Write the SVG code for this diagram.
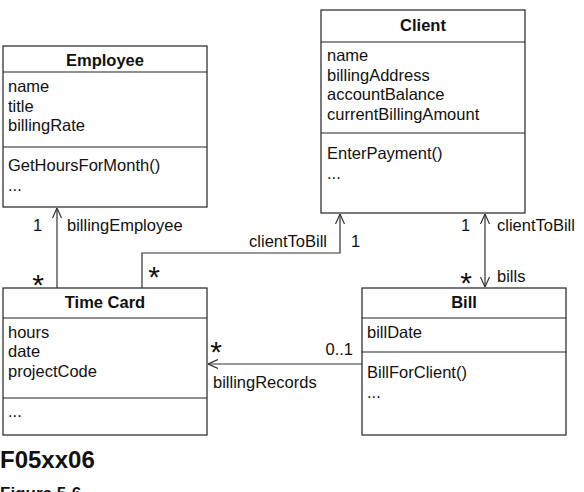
<svg xmlns="http://www.w3.org/2000/svg" width="584" height="492" viewBox="0 0 584 492">
<defs>
<style>
.box{fill:#fff;stroke:#222;stroke-width:1.2}
.div{stroke:#222;stroke-width:1.2}
.t{font-family:"Liberation Sans",Arial,sans-serif;font-size:16.5px;fill:#111}
.h{font-family:"Liberation Sans",Arial,sans-serif;font-size:16.5px;font-weight:bold;fill:#111;text-anchor:middle}
.star{font-family:"Liberation Sans",Arial,sans-serif;font-size:30px;fill:#111;text-anchor:middle}
.ln{fill:none;stroke:#333;stroke-width:1.2}
</style>
<marker id="open" viewBox="0 0 10 10" refX="10" refY="5" markerWidth="10" markerHeight="10" markerUnits="userSpaceOnUse" orient="auto-start-reverse">
<path d="M0,0.5 L10,5 L0,9.5" fill="none" stroke="#333" stroke-width="1.2"/>
</marker>
</defs>
<rect width="584" height="492" fill="#fff"/>

<g id="employee">
<rect class="box" x="3" y="46" width="204" height="161"/>
<line class="div" x1="3" y1="72" x2="207" y2="72"/>
<line class="div" x1="3" y1="147" x2="207" y2="147"/>
<text class="h" x="105" y="66">Employee</text>
<text class="t" x="8" y="92">name</text>
<text class="t" x="8" y="112">title</text>
<text class="t" x="8" y="131">billingRate</text>
<text class="t" x="8" y="171">GetHoursForMonth()</text>
<text class="t" x="8" y="191">...</text>
</g>

<g id="client">
<rect class="box" x="321" y="10" width="204" height="203"/>
<line class="div" x1="321" y1="42" x2="525" y2="42"/>
<line class="div" x1="321" y1="133" x2="525" y2="133"/>
<text class="h" x="423" y="31">Client</text>
<text class="t" x="327" y="61">name</text>
<text class="t" x="327" y="81">billingAddress</text>
<text class="t" x="327" y="100">accountBalance</text>
<text class="t" x="327" y="120">currentBillingAmount</text>
<text class="t" x="327" y="159">EnterPayment()</text>
<text class="t" x="327" y="179">...</text>
</g>

<g id="timecard">
<rect class="box" x="3" y="288" width="204" height="147"/>
<line class="div" x1="3" y1="318" x2="207" y2="318"/>
<line class="div" x1="3" y1="398" x2="207" y2="398"/>
<text class="h" x="105" y="308">Time Card</text>
<text class="t" x="8" y="338">hours</text>
<text class="t" x="8" y="357">date</text>
<text class="t" x="8" y="377">projectCode</text>
<text class="t" x="8" y="417">...</text>
</g>

<g id="bill">
<rect class="box" x="362" y="288" width="204" height="147"/>
<line class="div" x1="362" y1="318" x2="566" y2="318"/>
<line class="div" x1="362" y1="352" x2="566" y2="352"/>
<text class="h" x="464" y="308">Bill</text>
<text class="t" x="367" y="338">billDate</text>
<text class="t" x="367" y="378">BillForClient()</text>
<text class="t" x="367" y="398">...</text>
</g>

<g id="connectors">
<path class="ln" d="M57,288 L57,208" marker-end="url(#open)"/>
<path class="ln" d="M142,288 L142,253 L340,253 L340,214" marker-end="url(#open)"/>
<path class="ln" d="M485,214 L485,287" marker-start="url(#open)" marker-end="url(#open)"/>
<path class="ln" d="M362,364 L208,364" marker-end="url(#open)"/>
</g>

<g id="labels">
<text class="t" x="33" y="231">1</text>
<text class="t" x="67" y="231">billingEmployee</text>
<text class="star" x="38" y="295">*</text>
<text class="t" x="327" y="247" text-anchor="end">clientToBill</text>
<text class="t" x="351" y="247">1</text>
<text class="star" x="154" y="287">*</text>
<text class="t" x="461" y="231">1</text>
<text class="t" x="497" y="231">clientToBill</text>
<text class="star" x="466" y="293">*</text>
<text class="t" x="497" y="282">bills</text>
<text class="star" x="216" y="362">*</text>
<text class="t" x="353" y="355" text-anchor="end">0..1</text>
<text class="t" x="213" y="388">billingRecords</text>
</g>

<text x="0" y="468" font-family="'Liberation Sans',Arial,sans-serif" font-size="24" font-weight="bold" fill="#111">F05xx06</text>
<text x="0" y="499" font-family="'Liberation Sans',Arial,sans-serif" font-size="17" font-weight="bold" fill="#111">Figure 5-6</text>
</svg>
